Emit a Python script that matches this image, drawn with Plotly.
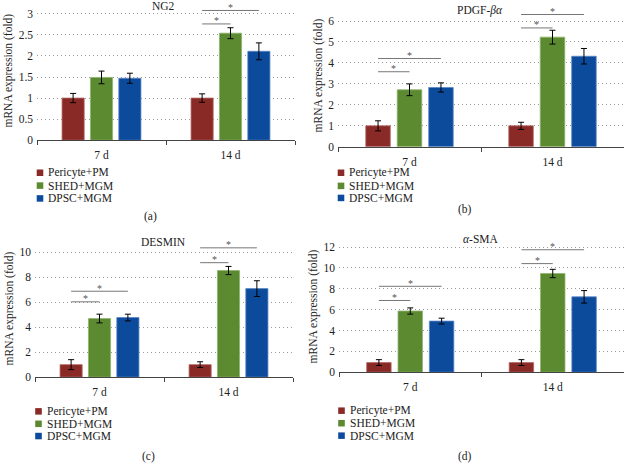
import plotly.graph_objects as go

# ---------------- data ----------------
categories = ["7 d", "14 d"]
groups = ["Pericyte+PM", "SHED+MGM", "DPSC+MGM"]
colors = ["#8a2a27", "#5b8a31", "#0c4a9c"]
edge_colors = ["#b36a66", "#8fb46c", "#5a86c6"]

panel_titles = ["NG2", "PDGF-<i>βα</i>", "DESMIN", "<i>α</i>-SMA"]
panel_letters = ["(a)", "(b)", "(c)", "(d)"]
y_title = "mRNA expression (fold)"

# means / errors: one row per group, one column per category
ng2_means = [[1.00, 1.00], [1.49, 2.54], [1.47, 2.11]]
ng2_errors = [[0.11, 0.10], [0.15, 0.13], [0.12, 0.20]]
pdgf_means = [[1.00, 1.00], [2.72, 5.23], [2.83, 4.32]]
pdgf_errors = [[0.24, 0.17], [0.28, 0.33], [0.22, 0.37]]
desmin_means = [[1.00, 1.00], [4.70, 8.55], [4.78, 7.10]]
desmin_errors = [[0.40, 0.23], [0.35, 0.33], [0.27, 0.63]]
sma_means = [[0.92, 0.92], [5.87, 9.47], [4.90, 7.23]]
sma_errors = [[0.28, 0.28], [0.30, 0.40], [0.28, 0.60]]

ng2_ticks = [0, 0.5, 1, 1.5, 2, 2.5, 3]
pdgf_ticks = [0, 1, 2, 3, 4, 5, 6]
desmin_ticks = [0, 2, 4, 6, 8, 10]
sma_ticks = [0, 2, 4, 6, 8, 10, 12]

# significance brackets: (category index, from group, to group, height)
ng2_sig = [(1, 0, 1, 2.76), (1, 0, 2, 3.08)]
pdgf_sig = [(0, 0, 1, 3.58), (0, 0, 2, 4.21), (1, 0, 1, 5.67), (1, 0, 2, 6.31)]
desmin_sig = [(0, 0, 1, 6.04), (0, 0, 2, 6.89), (1, 0, 1, 9.18), (1, 0, 2, 10.37)]
sma_sig = [(0, 0, 1, 6.88), (0, 0, 2, 8.24), (1, 0, 1, 10.42), (1, 0, 2, 11.75)]

# ---------------- layout constants ----------------
W, H = 624, 469
FONT = "Liberation Serif"
FS = 11.5
BARGAP = 0.34
BARGROUPGAP = 0.22

panels = [
    dict(means=ng2_means, errs=ng2_errors, ticks=ng2_ticks, sig=ng2_sig,
         yr=3.3, xpx=(37, 295), ypx=(1.2, 142),
         title_pos=(163, 6), letter_pos=(150, 219),
         leg_x=40, leg_y=(175, 188, 201)),
    dict(means=pdgf_means, errs=pdgf_errors, ticks=pdgf_ticks, sig=pdgf_sig,
         yr=6.8, xpx=(338, 624), ypx=(4.3, 148.7),
         title_pos=(480, 11), letter_pos=(465, 212),
         leg_x=341, leg_y=(175, 188.3, 200.5)),
    dict(means=desmin_means, errs=desmin_errors, ticks=desmin_ticks, sig=desmin_sig,
         yr=11.0, xpx=(35, 293), ypx=(243.1, 382),
         title_pos=(163, 245), letter_pos=(148, 462),
         leg_x=38.5, leg_y=(416.7, 429.3, 441.7)),
    dict(means=sma_means, errs=sma_errors, ticks=sma_ticks, sig=sma_sig,
         yr=12.6, xpx=(339, 624), ypx=(244, 377),
         title_pos=(480, 242), letter_pos=(465, 462),
         leg_x=341.5, leg_y=(416, 428.7, 441.3)),
]


def px_x(v):
    return v / W


def px_y(v):
    return 1 - v / H


fig = go.Figure()
shapes = []
annotations = []
layout_axes = {}

group_w = 1 - BARGAP
slot = group_w / len(groups)


def bar_center(cat, g):
    return cat - group_w / 2 + slot * (g + 0.5)


for p_i, p in enumerate(panels):
    n = "" if p_i == 0 else str(p_i + 1)
    xa, ya = "x" + n, "y" + n
    for g_i, g in enumerate(groups):
        fig.add_trace(go.Bar(
            x=categories, y=p["means"][g_i], name=g,
            xaxis=xa, yaxis=ya, showlegend=False,
            marker=dict(color=colors[g_i], line=dict(color=edge_colors[g_i], width=0.8)),
            error_y=dict(type="data", array=p["errs"][g_i], color="black",
                         thickness=1, width=3),
        ))
    layout_axes["xaxis" + n] = dict(
        domain=[px_x(p["xpx"][0]), px_x(p["xpx"][1])], anchor=ya,
        type="category", showline=True, linecolor="#444", linewidth=1,
        ticks="outside", tickson="boundaries", ticklen=4, tickcolor="#444",
        showgrid=False, tickfont=dict(family=FONT, size=FS, color="#222"),
        range=[-0.5, 1.5], ticklabelstandoff=4,
    )
    layout_axes["yaxis" + n] = dict(
        domain=[px_y(p["ypx"][1]), px_y(p["ypx"][0])], anchor=xa,
        range=[0, p["yr"]], tickvals=p["ticks"], showline=False, ticks="",
        showgrid=True, gridcolor="#9a9a9a", gridwidth=1, griddash="1px,3px",
        zeroline=False, tickfont=dict(family=FONT, size=FS, color="#222"),
        title=dict(text=y_title, font=dict(family=FONT, size=11.5, color="#222"),
                   standoff=3),
        ticklabelstandoff=3,
    )
    # significance brackets
    for (cat, g0, g1, h) in p["sig"]:
        x0, x1 = bar_center(cat, g0), bar_center(cat, g1)
        shapes.append(dict(type="line", xref=xa, yref=ya, x0=x0, x1=x1, y0=h, y1=h,
                           line=dict(color="#777", width=1)))
        annotations.append(dict(xref=xa, yref=ya, x=(x0 + x1) / 2, y=h, text="*",
                                showarrow=False, yanchor="middle", yshift=3,
                                font=dict(family=FONT, size=10, color="#555")))
    # panel title
    annotations.append(dict(xref="paper", yref="paper", x=px_x(p["title_pos"][0]),
                            y=px_y(p["title_pos"][1]), text=panel_titles[p_i],
                            showarrow=False, xanchor="center", yanchor="middle",
                            font=dict(family=FONT, size=FS, color="#222")))
    # panel letter
    annotations.append(dict(xref="paper", yref="paper", x=px_x(p["letter_pos"][0]),
                            y=px_y(p["letter_pos"][1]), text=panel_letters[p_i],
                            showarrow=False, xanchor="center", yanchor="middle",
                            font=dict(family=FONT, size=FS, color="#222")))
    # manual legend
    for g_i, g in enumerate(groups):
        cx, cy = p["leg_x"], p["leg_y"][g_i]
        s = 3.3
        shapes.append(dict(type="rect", xref="paper", yref="paper",
                           x0=px_x(cx - s), x1=px_x(cx + s),
                           y0=px_y(cy + s), y1=px_y(cy - s),
                           fillcolor=colors[g_i], line=dict(width=0)))
        annotations.append(dict(xref="paper", yref="paper", x=px_x(cx + s + 3),
                                y=px_y(cy), text=g, showarrow=False,
                                xanchor="left", yanchor="middle",
                                font=dict(family=FONT, size=FS, color="#222")))

fig.update_layout(
    width=W, height=H, margin=dict(l=0, r=0, t=0, b=0),
    paper_bgcolor="white", plot_bgcolor="white",
    barmode="group", bargap=BARGAP, bargroupgap=BARGROUPGAP,
    shapes=shapes, annotations=annotations, showlegend=False,
    **layout_axes,
)

fig.write_html("out.html", config={"displayModeBar": False},
               post_script="document.body.style.margin='0';document.body.style.overflow='hidden';")
